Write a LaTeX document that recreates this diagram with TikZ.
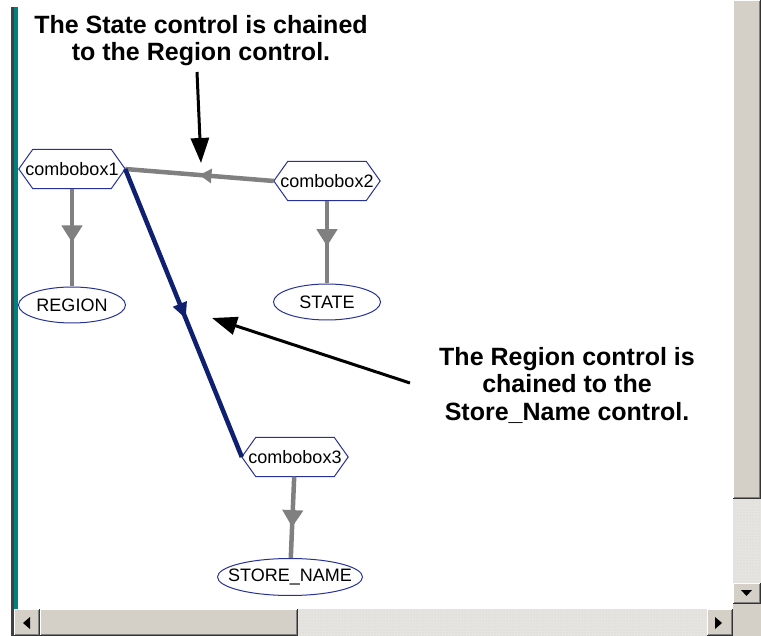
\documentclass[tikz,border=0pt]{standalone}
\usepackage{fontspec}
\setmainfont{Liberation Sans}
\usetikzlibrary{shapes.geometric, arrows.meta, decorations.markings, patterns}
\definecolor{winface}{RGB}{212,208,200}
\definecolor{winshadow}{RGB}{128,128,128}
\definecolor{hatchgray}{RGB}{230,228,224}
\definecolor{tealbar}{RGB}{0,128,128}
\definecolor{navyline}{RGB}{16,32,112}
\definecolor{nodeblue}{RGB}{40,50,150}
\definecolor{edgegray}{RGB}{128,128,128}
\pgfdeclarelayer{background}
\pgfsetlayers{background,main}
\newcommand\wbtn[4]{%
  \fill[winface] (#1,#2) rectangle (#3,#4);
  \draw[white, line width=1pt] (#1+0.5,#4-1) -- (#1+0.5,#2+0.5) -- (#3-1,#2+0.5);
  \draw[winshadow, line width=1pt] (#1+1,#4-1.5) -- (#3-1.5,#4-1.5) -- (#3-1.5,#2+1);
  \draw[black!80, line width=1pt] (#1,#4-0.5) -- (#3-0.5,#4-0.5) -- (#3-0.5,#2);
}
\begin{document}
\begin{tikzpicture}[x=1pt,y=-1pt,
  hexnode/.style={minimum width=106pt, minimum height=39pt, inner sep=0pt,
    font=\fontsize{18}{20}\selectfont},
  ellnode/.style={ellipse, draw=nodeblue, line width=1pt, fill=white,
    minimum height=36pt, inner sep=0pt, font=\fontsize{18}{20}\selectfont},
  hexline/.style={draw=nodeblue, line width=1pt, fill=white},
  grayedge/.style={draw=edgegray, line width=4.5pt},
  blueedge/.style={draw=navyline, line width=4.5pt},
  midarrow/.style 2 args={postaction={decorate, decoration={markings,
    mark=at position #1 with {\arrow{#2}}}}},
  note/.style={font=\fontsize{25}{27.5}\selectfont\bfseries, align=center, inner sep=0pt},
  notearrow/.style={draw=black, line width=3pt, -{Triangle[length=25pt,width=18pt]}},
  hatcharea/.style={fill=hatchgray, postaction={pattern=dots, pattern color=winface}},
]
\useasboundingbox (0,0) rectangle (761,636);

% nodes
\node[hexnode] (cb1) at (72,169) {combobox1};
\node[hexnode] (cb2) at (327,181) {combobox2};
\node[hexnode] (cb3) at (295,457) {combobox3};
\node[ellnode, minimum width=107pt] (region) at (72,305) {REGION};
\node[ellnode, minimum width=107pt] (state) at (327,302) {STATE};
\node[ellnode, minimum width=145pt, minimum height=37pt, inner xsep=-11pt] (store) at (290,577) {STORE\_NAME};

\begin{pgfonlayer}{background}
  \fill[white] (0,0) rectangle (761,636);
  \foreach \n in {cb1,cb2,cb3}{
    \draw[hexline] (\n.west) -- ([xshift=14pt]\n.north west) -- ([xshift=-14pt]\n.north east)
      -- (\n.east) -- ([xshift=-14pt]\n.south east) -- ([xshift=14pt]\n.south west) -- cycle;
  }
\end{pgfonlayer}

% connectors
\draw[grayedge, midarrow={0.55}{Triangle[length=17pt,width=20pt]}] (cb1) -- (region);
\draw[grayedge, midarrow={0.55}{Triangle[length=17pt,width=20pt]}] (cb2) -- (state);
\draw[grayedge, midarrow={0.62}{Triangle[length=17pt,width=20pt]}] (cb3) -- (store);
\draw[grayedge, midarrow={0.5}{Triangle[length=12pt,width=14pt]}] (cb2.west) -- (cb1.east);
\draw[blueedge, midarrow={0.52}{Triangle[length=16pt,width=14pt]}] (cb1.east) -- (cb3.west);

% annotations
\node[note, anchor=north] (t1) at (201,15) {The State control is chained\\to the Region control.};
\node[note, anchor=north] (t2) at (567,347) {The Region control is\\chained to the\\Store\_Name control.};
\coordinate (a1s) at (197,72);
\coordinate (a1e) at (201,163);
\draw[notearrow] (a1s) -- (a1e);
\coordinate (a2s) at (410,383);
\coordinate (a2e) at (212,318);
\draw[notearrow] (a2s) -- (a2e);

% window frame: left edge
\fill[black!75] (11,7) rectangle (14,636);
\fill[tealbar] (14,7) rectangle (18,609);

% vertical scrollbar
\wbtn{733}{0}{761}{499}
\fill[hatcharea] (733,499) rectangle (761,583);
\wbtn{733}{583}{761}{604}
\fill[black] (741,590) -- (752,590) -- (746.5,596) -- cycle;
\fill[winface] (733,604) rectangle (761,636);

% horizontal scrollbar
\wbtn{14}{609}{40}{636}
\fill[black] (23,623) -- (30,617) -- (30,629) -- cycle;
\wbtn{40}{609}{298}{636}
\fill[hatcharea] (298,609) rectangle (707,636);
\wbtn{707}{609}{733}{636}
\fill[black] (722,623) -- (715,617) -- (715,629) -- cycle;
\fill[black!75] (11,609) rectangle (14,636);
\end{tikzpicture}
\end{document}
